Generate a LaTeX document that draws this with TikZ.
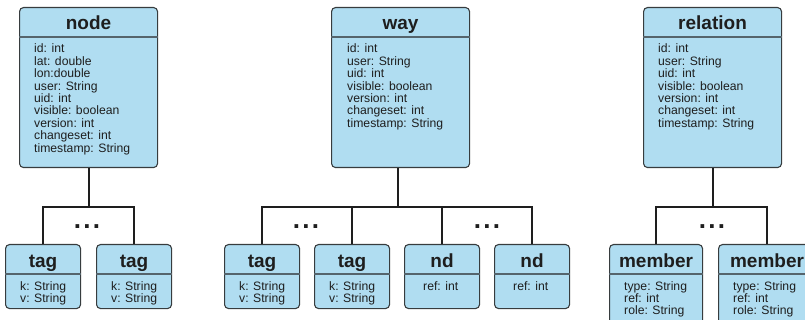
\documentclass[tikz,border=0pt]{standalone}
\usepackage{fontspec}
\setmainfont{Liberation Sans}
\definecolor{boxfill}{RGB}{176,221,241}
\definecolor{boxline}{RGB}{55,60,62}
\definecolor{divline}{RGB}{85,100,108}
\definecolor{connline}{RGB}{30,30,30}
\definecolor{txt}{RGB}{30,30,30}
\tikzset{
  umlbox/.style={draw=boxline, fill=boxfill, line width=1.1pt, rounded corners=4pt, inner sep=0pt, anchor=north west},
  divider/.style={draw=divline, line width=1.4pt},
  titletext/.style={anchor=base, inner sep=0pt, font=\fontsize{19}{23}\selectfont\bfseries, text=txt},
  bodytext/.style={anchor=base west, inner sep=0pt, font=\fontsize{12.2}{12.4}\selectfont, text=txt},
  conn/.style={draw=connline, line width=2pt},
  dotstext/.style={anchor=base, inner sep=0pt, font=\fontsize{26}{30}\selectfont\bfseries, text=txt},
}
\newcommand\umlclass[8]{% name,x,y,w,h,title,body,pad
  \node[umlbox, minimum width=#4pt, minimum height=#5pt] (#1) at (#2,#3) {};
  \draw[divider] ([yshift=-30pt]#1.north west) -- ([yshift=-30pt]#1.north east);
  \node[titletext] (#1-t) at ([yshift=-23pt]#1.north) {#6};
  \node[bodytext] (#1-b) at ([xshift=#8pt,yshift=-46pt]#1.north west) {\parbox[t]{150pt}{#7}};
}
\newcommand\threedots{.\kern2.2pt.\kern2.2pt.}
\begin{document}
\begin{tikzpicture}[x=1pt,y=-1pt]
\useasboundingbox (0,0) rectangle (805,320);
\clip (0,0) rectangle (805,320);
% top classes
\umlclass{node}{19}{7}{138}{160}{node}{id: int\\lat: double\\lon:double\\user: String\\uid: int\\visible: boolean\\version: int\\changeset: int\\timestamp: String}{15}
\umlclass{way}{331}{7}{138}{160}{way}{id: int\\user: String\\uid: int\\visible: boolean\\version: int\\changeset: int\\timestamp: String}{16}
\umlclass{relation}{643}{7}{138}{160}{relation}{id: int\\user: String\\uid: int\\visible: boolean\\version: int\\changeset: int\\timestamp: String}{15}
% bottom classes
\umlclass{tagA}{5}{244}{75}{64}{tag}{k: String\\v: String}{15}
\umlclass{tagB}{96}{244}{75}{64}{tag}{k: String\\v: String}{15}
\umlclass{tagC}{224}{244}{75}{64}{tag}{k: String\\v: String}{15}
\umlclass{tagD}{314}{244}{75}{64}{tag}{k: String\\v: String}{15}
\umlclass{ndA}{404}{244}{75}{64}{nd}{ref: int}{19}
\umlclass{ndB}{494}{244}{75}{64}{nd}{ref: int}{19}
\umlclass{memA}{609}{244}{93}{100}{member}{type: String\\ref: int\\role: String}{15}
\umlclass{memB}{718}{244}{97}{100}{member}{type: String\\ref: int\\role: String}{15}
% connectors
\coordinate (bar) at (0,207);
\draw[conn] (node.south) -- (node.south |- bar);
\draw[conn] (tagA.north) |- (tagB.north |- bar) -- (tagB.north);
\draw[conn] ([xshift=-3pt]way.south) -- ([xshift=-3pt]way.south |- bar);
\draw[conn] (tagC.north) |- (ndB.north |- bar) -- (ndB.north);
\draw[conn] (tagD.north) -- (tagD.north |- bar);
\draw[conn] (ndA.north) -- (ndA.north |- bar);
\draw[conn] (relation.south) -- (relation.south |- bar);
\draw[conn] (memA.north) |- (memB.north |- bar) -- (memB.north);
% ellipses
\node[dotstext] (d1) at (87,229) {\threedots};
\node[dotstext] (d2) at (306,229) {\threedots};
\node[dotstext] (d3) at (487,229) {\threedots};
\node[dotstext] (d4) at (712,229) {\threedots};
\end{tikzpicture}
\end{document}
